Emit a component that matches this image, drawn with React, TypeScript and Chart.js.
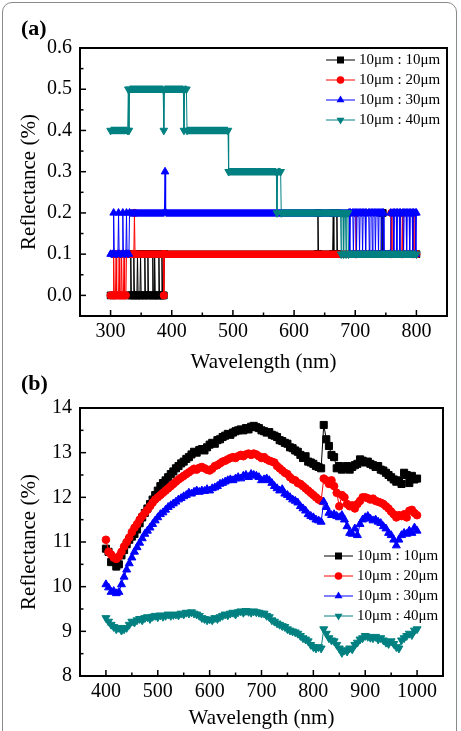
import React, { useEffect, useRef } from 'react';
import { Chart, registerables } from 'chart.js';

Chart.register(...registerables);

const FONT = '"Liberation Serif", "Times New Roman", Times, serif';
Chart.defaults.font.family = FONT;
Chart.defaults.color = '#000';

const SERIES_LABELS = ['10μm : 10μm', '10μm : 20μm', '10μm : 30μm', '10μm : 40μm'];
const COLORS = ['#000000', '#ff0000', '#0000ff', '#008080'];
const POINT_STYLES = ['rect', 'circle', 'triangle', 'triangle'];
const POINT_ROTATIONS = [0, 0, 0, 180];
const POINT_RADII = [5, 3.8, 4.6, 4.6];

// ---------- (a) step-like reflectance, [wavelength, value] run end points ----------
const aBlack: [number, number][] = [
  [300, 0], [332, 0], [333, 0.1], [334, 0], [337, 0], [338, 0.1], [339, 0], [343, 0], [344, 0.1], [345, 0],
  [348, 0], [349, 0.1], [350, 0], [355, 0], [356, 0.1], [357, 0], [360, 0], [361, 0.1], [362, 0], [368, 0],
  [369, 0.1], [370, 0], [371, 0], [372, 0.1], [373, 0], [378, 0], [379, 0.1], [380, 0], [383, 0], [384, 0.1],
  [385, 0], [387, 0], [388, 0.1], [638, 0.1], [639, 0.2], [640, 0.1], [663, 0.1], [664, 0.2], [665, 0.1],
  [669, 0.1], [670, 0.2], [671, 0.1], [742, 0.1], [743, 0.2], [744, 0.1], [745, 0.2], [746, 0.1], [800, 0.1],
];
const aRed: [number, number][] = [
  [300, 0], [304, 0], [305, 0.1], [306, 0], [308, 0], [309, 0.1], [310, 0], [313, 0], [314, 0.1], [315, 0],
  [317, 0], [318, 0.1], [319, 0], [321, 0], [322, 0.1], [323, 0], [325, 0], [326, 0.1], [338, 0.1], [339, 0.2],
  [340, 0.1], [386, 0.1], [387, 0], [388, 0.1], [700, 0.1], [701, 0.2], [702, 0.1], [758, 0.1], [759, 0.2],
  [760, 0.1], [776, 0.1], [777, 0.2], [778, 0.1], [794, 0.1], [795, 0.2], [796, 0.1], [800, 0.1],
];
const aBlue: [number, number][] = [
  [300, 0.1], [304, 0.1], [305, 0.2], [306, 0.1], [312, 0.1], [313, 0.2], [314, 0.1], [319, 0.1], [320, 0.2],
  [321, 0.1], [325, 0.1], [326, 0.2], [327, 0.1], [330, 0.1], [331, 0.2], [388, 0.2], [389, 0.3], [390, 0.2],
  [690, 0.2], [691, 0.1], [692, 0.2], [696, 0.2], [697, 0.1], [698, 0.2], [701, 0.2], [702, 0.1], [703, 0.2],
  [706, 0.2], [707, 0.1], [708, 0.2], [711, 0.2], [712, 0.1], [713, 0.2], [716, 0.2], [717, 0.1], [718, 0.2],
  [722, 0.2], [723, 0.1], [724, 0.2], [727, 0.2], [728, 0.1], [729, 0.2], [732, 0.2], [733, 0.1], [734, 0.2],
  [737, 0.2], [738, 0.1], [739, 0.2], [742, 0.2], [743, 0.1], [744, 0.2], [746, 0.2], [747, 0.1], [757, 0.1],
  [758, 0.2], [762, 0.2], [763, 0.1], [764, 0.2], [767, 0.2], [768, 0.1], [769, 0.2], [772, 0.2], [773, 0.1],
  [774, 0.2], [778, 0.2], [779, 0.1], [780, 0.2], [783, 0.2], [784, 0.1], [785, 0.2], [788, 0.2], [789, 0.1],
  [790, 0.2], [793, 0.2], [794, 0.1], [795, 0.2], [798, 0.2], [799, 0.1], [800, 0.2],
];
const aTeal: [number, number][] = [
  [300, 0.4], [328, 0.4], [329, 0.5], [330, 0.4], [331, 0.5], [386, 0.5], [387, 0.4], [388, 0.5], [419, 0.5],
  [420, 0.4], [421, 0.5], [424, 0.5], [425, 0.4], [492, 0.4], [493, 0.3], [571, 0.3], [572, 0.2], [573, 0.3],
  [578, 0.3], [579, 0.2], [676, 0.2], [677, 0.1], [678, 0.2], [680, 0.2], [681, 0.1], [682, 0.2], [684, 0.2],
  [685, 0.1], [686, 0.2], [688, 0.2], [689, 0.1], [800, 0.1],
];
const aXTicks = [300, 400, 500, 600, 700, 800];
const aXMinor = [350, 450, 550, 650, 750];
const aYTicks = [0, 0.1, 0.2, 0.3, 0.4, 0.5, 0.6];
const aYMinor = [0.05, 0.15, 0.25, 0.35, 0.45, 0.55];

// ---------- (b) reflectance spectra, 400–1000 nm every 5 nm ----------
const bWavelengths = Array.from({ length: 121 }, (_, i) => 400 + i * 5);
const bBlack = [
  10.85, 10.78, 10.55, 10.58, 10.45, 10.50, 10.70, 10.82, 10.95, 11.05,
  11.12, 11.18, 11.28, 11.42, 11.55, 11.65, 11.75, 11.85, 11.95, 12.05,
  12.15, 12.25, 12.32, 12.38, 12.45, 12.52, 12.58, 12.65, 12.70, 12.76,
  12.80, 12.86, 12.90, 12.96, 13.02, 13.00, 13.06, 13.08, 13.05, 13.12,
  13.18, 13.22, 13.20, 13.28, 13.30, 13.35, 13.38, 13.42, 13.40, 13.45,
  13.48, 13.50, 13.52, 13.50, 13.55, 13.52, 13.58, 13.60, 13.57, 13.55,
  13.50, 13.48, 13.45, 13.46, 13.40, 13.38, 13.35, 13.28, 13.26, 13.22,
  13.20, 13.12, 13.10, 13.05, 13.02, 12.95, 12.88, 12.92, 12.80, 12.78,
  12.75, 12.70, 12.68, 12.65, 13.62, 13.30, 13.15, 12.95, 12.90, 12.65,
  12.70, 12.62, 12.65, 12.70, 12.62, 12.68, 12.72, 12.75, 12.85, 12.82,
  12.78, 12.80, 12.75, 12.72, 12.68, 12.70, 12.62, 12.60, 12.55, 12.50,
  12.45, 12.40, 12.35, 12.38, 12.30, 12.55, 12.50, 12.32, 12.48, 12.40,
  12.42,
];
const bRed = [
  11.05, 10.78, 10.72, 10.65, 10.62, 10.68, 10.78, 10.90, 11.00, 11.10,
  11.22, 11.32, 11.40, 11.50, 11.58, 11.65, 11.72, 11.80, 11.88, 11.95,
  12.00, 12.05, 12.10, 12.15, 12.20, 12.25, 12.30, 12.35, 12.40, 12.44,
  12.48, 12.52, 12.56, 12.60, 12.64, 12.62, 12.66, 12.68, 12.65, 12.62,
  12.60, 12.64, 12.70, 12.72, 12.76, 12.80, 12.82, 12.85, 12.88, 12.90,
  12.88, 12.92, 12.95, 12.92, 12.96, 12.98, 12.95, 12.98, 12.96, 12.92,
  12.88, 12.90, 12.85, 12.82, 12.80, 12.78, 12.70, 12.65, 12.60, 12.55,
  12.52, 12.45, 12.40, 12.38, 12.32, 12.30, 12.25, 12.20, 12.15, 12.10,
  12.05, 12.00, 11.95, 11.92, 12.42, 12.38, 12.30, 12.38, 12.25, 12.10,
  11.80, 12.05, 12.00, 11.85, 11.80, 11.82, 11.75, 11.85, 11.92, 12.00,
  12.00, 11.98, 11.95, 11.97, 11.92, 11.90, 11.88, 11.85, 11.80, 11.75,
  11.68, 11.62, 11.55, 11.60, 11.58, 11.62, 11.55, 11.70, 11.72, 11.65,
  11.60,
];
const bBlue = [
  10.05, 9.98, 9.88, 9.90, 9.85, 9.88, 10.05, 10.22, 10.38, 10.52,
  10.65, 10.78, 10.88, 10.98, 11.08, 11.18, 11.25, 11.32, 11.40, 11.48,
  11.55, 11.62, 11.66, 11.72, 11.78, 11.82, 11.86, 11.90, 11.95, 11.98,
  12.02, 12.05, 12.10, 12.08, 12.12, 12.15, 12.12, 12.15, 12.14, 12.18,
  12.15, 12.20, 12.22, 12.25, 12.30, 12.32, 12.35, 12.38, 12.40, 12.38,
  12.42, 12.45, 12.42, 12.48, 12.50, 12.45, 12.52, 12.50, 12.48, 12.45,
  12.38, 12.40, 12.42, 12.38, 12.32, 12.25, 12.20, 12.15, 12.18, 12.08,
  12.05, 12.00, 11.95, 11.92, 11.88, 11.80, 11.75, 11.70, 11.62, 11.58,
  11.55, 11.50, 11.48, 11.45, 11.90, 11.78, 11.65, 11.60, 11.62, 11.58,
  11.55, 11.60, 11.50, 11.35, 11.20, 11.18, 11.30, 11.15, 11.40, 11.50,
  11.55, 11.58, 11.52, 11.48, 11.50, 11.45, 11.42, 11.35, 11.30, 11.20,
  11.15, 11.05, 10.92, 11.05, 11.15, 11.20, 11.18, 11.25, 11.20, 11.32,
  11.25,
];
const bTeal = [
  9.30, 9.22, 9.15, 9.10, 9.05, 9.08, 9.02, 9.05, 9.08, 9.15,
  9.22, 9.20, 9.25, 9.28, 9.25, 9.30, 9.32, 9.28, 9.33, 9.35,
  9.32, 9.36, 9.33, 9.35, 9.38, 9.35, 9.37, 9.38, 9.36, 9.40,
  9.38, 9.42, 9.40, 9.43, 9.40, 9.38, 9.35, 9.30, 9.28, 9.25,
  9.27, 9.25, 9.30, 9.28, 9.32, 9.35, 9.38, 9.36, 9.40, 9.42,
  9.38, 9.43, 9.45, 9.42, 9.46, 9.44, 9.42, 9.45, 9.43, 9.42,
  9.40, 9.40, 9.35, 9.32, 9.25, 9.22, 9.18, 9.15, 9.12, 9.10,
  9.05, 9.02, 9.00, 8.98, 8.95, 8.90, 8.85, 8.82, 8.78, 8.70,
  8.65, 8.62, 8.65, 8.62, 9.05, 8.95, 8.85, 8.80, 8.78, 8.70,
  8.62, 8.52, 8.58, 8.55, 8.62, 8.60, 8.70, 8.75, 8.82, 8.85,
  8.90, 8.88, 8.86, 8.85, 8.88, 8.82, 8.85, 8.80, 8.75, 8.72,
  8.78, 8.72, 8.65, 8.62, 8.80, 8.85, 8.90, 8.95, 8.92, 9.02,
  9.05,
];
const bXTicks = [400, 500, 600, 700, 800, 900, 1000];
const bXMinor = [450, 550, 650, 750, 850, 950];
const bYTicks = [8, 9, 10, 11, 12, 13, 14];
const bYMinor = [8.5, 9.5, 10.5, 11.5, 12.5, 13.5];

function drawMarker(ctx: CanvasRenderingContext2D, i: number, cx: number, cy: number) {
  ctx.fillStyle = COLORS[i];
  ctx.beginPath();
  if (i === 0) {
    ctx.rect(cx - 3.5, cy - 3.5, 7, 7);
  } else if (i === 1) {
    ctx.arc(cx, cy, 3.8, 0, Math.PI * 2);
  } else if (i === 2) {
    const r = 4.6;
    ctx.moveTo(cx, cy - r);
    ctx.lineTo(cx + r * 0.866, cy + r / 2);
    ctx.lineTo(cx - r * 0.866, cy + r / 2);
    ctx.closePath();
  } else {
    const r = 4.6;
    ctx.moveTo(cx, cy + r);
    ctx.lineTo(cx + r * 0.866, cy - r / 2);
    ctx.lineTo(cx - r * 0.866, cy - r / 2);
    ctx.closePath();
  }
  ctx.fill();
}

function makeDecor(cfg: {
  xMajor: number[]; xMinor: number[]; yMajor: number[]; yMinor: number[];
  legendX: number; legendY: number; legendDy: number;
}) {
  return {
    id: 'decor',
    afterDraw(chart: any) {
      const ctx: CanvasRenderingContext2D = chart.ctx;
      const { left, right, top, bottom } = chart.chartArea;
      const xs = chart.scales.x;
      const ys = chart.scales.y;
      ctx.save();
      ctx.strokeStyle = '#000';
      ctx.lineWidth = 1.5;
      const seg = (x1: number, y1: number, x2: number, y2: number) => {
        ctx.beginPath();
        ctx.moveTo(x1, y1);
        ctx.lineTo(x2, y2);
        ctx.stroke();
      };
      cfg.xMajor.forEach((v) => { const p = xs.getPixelForValue(v); seg(p, bottom, p, bottom - 6); });
      cfg.xMinor.forEach((v) => { const p = xs.getPixelForValue(v); seg(p, bottom, p, bottom - 3.5); });
      cfg.yMajor.forEach((v) => { const p = ys.getPixelForValue(v); seg(left, p, left + 6, p); });
      cfg.yMinor.forEach((v) => { const p = ys.getPixelForValue(v); seg(left, p, left + 3.5, p); });
      ctx.lineWidth = 2;
      ctx.strokeRect(left, top, right - left, bottom - top);

      // legend
      SERIES_LABELS.forEach((label, i) => {
        const yy = cfg.legendY + i * cfg.legendDy;
        ctx.strokeStyle = COLORS[i];
        ctx.lineWidth = 1;
        seg(cfg.legendX, yy, cfg.legendX + 29, yy);
        drawMarker(ctx, i, cfg.legendX + 14.5, yy);
        ctx.fillStyle = '#000';
        ctx.font = `15px ${FONT}`;
        ctx.textBaseline = 'middle';
        ctx.textAlign = 'left';
        ctx.fillText(label, cfg.legendX + 33, yy);
      });
      ctx.restore();
    },
  };
}

function baseScales(opts: {
  xMin: number; xMax: number; yMin: number; yMax: number;
  xTicks: number[]; yTicks: number[]; xHeight: number; yFmt: (v: number) => string;
  xTitlePadBottom: number;
}) {
  return {
    x: {
      type: 'linear',
      min: opts.xMin,
      max: opts.xMax,
      grid: { display: false, drawTicks: false },
      border: { display: false },
      afterBuildTicks: (s: any) => { s.ticks = opts.xTicks.map((v) => ({ value: v })); },
      afterFit: (s: any) => { s.height = opts.xHeight; },
      ticks: {
        padding: 4, color: '#000', autoSkip: false, maxRotation: 0,
        font: { family: FONT, size: 20 },
        callback: (v: any) => String(v),
      },
      title: {
        display: true, text: 'Wavelength (nm)', color: '#000',
        font: { family: FONT, size: 21 },
        padding: { top: 0, bottom: opts.xTitlePadBottom },
      },
    },
    y: {
      type: 'linear',
      min: opts.yMin,
      max: opts.yMax,
      grid: { display: false, drawTicks: false },
      border: { display: false },
      afterBuildTicks: (s: any) => { s.ticks = opts.yTicks.map((v) => ({ value: v })); },
      afterFit: (s: any) => { s.width = 80; },
      ticks: {
        padding: 8, color: '#000', autoSkip: false,
        font: { family: FONT, size: 20 },
        callback: (v: any) => opts.yFmt(Number(v)),
      },
      title: {
        display: true, text: 'Reflectance (%)', color: '#000',
        font: { family: FONT, size: 21 },
        padding: { top: 17, bottom: 0 },
      },
    },
  };
}

export default function App() {
  const refA = useRef<HTMLCanvasElement>(null);
  const refB = useRef<HTMLCanvasElement>(null);

  useEffect(() => {
    const seriesA = [aBlack, aRed, aBlue, aTeal];
    const chartA = new Chart(refA.current as HTMLCanvasElement, {
      type: 'line',
      data: {
        datasets: seriesA.map((pts, i) => ({
          label: SERIES_LABELS[i],
          data: pts.map(([x, y]) => ({ x, y })),
          borderColor: COLORS[i],
          backgroundColor: COLORS[i],
          pointBackgroundColor: COLORS[i],
          pointBorderColor: COLORS[i],
          pointStyle: POINT_STYLES[i],
          pointRotation: POINT_ROTATIONS[i],
          pointRadius: POINT_RADII[i] * 0.95,
          pointBorderWidth: 1,
          borderWidth: 1,
          tension: 0,
          order: 3 - i,
          segment: {
            borderWidth: (c: any) => (c.p0.parsed.y === c.p1.parsed.y ? 7.5 : 1),
          },
        })),
      },
      options: {
        animation: false,
        responsive: false,
        maintainAspectRatio: false,
        font: { family: FONT },
        layout: { padding: { top: 48, right: 14, left: 0, bottom: 0 } },
        plugins: { legend: { display: false }, tooltip: { enabled: false } },
        scales: baseScales({
          xMin: 250, xMax: 850, yMin: -0.05, yMax: 0.6,
          xTicks: aXTicks, yTicks: aYTicks, xHeight: 64,
          yFmt: (v) => v.toFixed(1), xTitlePadBottom: 5,
        }) as any,
      },
      plugins: [makeDecor({
        xMajor: aXTicks, xMinor: aXMinor, yMajor: aYTicks, yMinor: aYMinor,
        legendX: 326, legendY: 60, legendDy: 20,
      })],
    } as any);

    const seriesB = [bBlack, bRed, bBlue, bTeal];
    const chartB = new Chart(refB.current as HTMLCanvasElement, {
      type: 'line',
      data: {
        datasets: seriesB.map((vals, i) => ({
          label: SERIES_LABELS[i],
          data: bWavelengths.map((x, k) => ({ x, y: vals[k] })),
          borderColor: COLORS[i],
          backgroundColor: COLORS[i],
          pointBackgroundColor: COLORS[i],
          pointBorderColor: COLORS[i],
          pointStyle: POINT_STYLES[i],
          pointRotation: POINT_ROTATIONS[i],
          pointRadius: POINT_RADII[i],
          pointBorderWidth: 1,
          borderWidth: 1,
          tension: 0,
          order: 3 - i,
        })),
      },
      options: {
        animation: false,
        responsive: false,
        maintainAspectRatio: false,
        font: { family: FONT },
        layout: { padding: { top: 38, right: 18, left: 0, bottom: 0 } },
        plugins: { legend: { display: false }, tooltip: { enabled: false } },
        scales: baseScales({
          xMin: 350, xMax: 1050, yMin: 8, yMax: 14,
          xTicks: bXTicks, yTicks: bYTicks, xHeight: 55,
          yFmt: (v) => String(v), xTitlePadBottom: 0,
        }) as any,
      },
      plugins: [makeDecor({
        xMajor: bXTicks, xMinor: bXMinor, yMajor: bYTicks, yMinor: bYMinor,
        legendX: 324, legendY: 186, legendDy: 20,
      })],
    } as any);

    return () => {
      chartA.destroy();
      chartB.destroy();
    };
  }, []);

  const panelLabel: React.CSSProperties = {
    position: 'absolute',
    left: 21,
    font: `bold 22px ${FONT}`,
    lineHeight: '22px',
    color: '#000',
  };

  return (
    <div style={{ position: 'absolute', left: 0, top: 0, width: 461, height: 731, overflow: 'hidden', background: '#fff' }}>
      <div style={{ position: 'absolute', left: 2, top: 2, width: 455, height: 760, border: '1px solid #8a8a8a', borderRadius: 10, boxSizing: 'border-box' }} />
      <canvas ref={refA} width={461} height={380} style={{ position: 'absolute', left: 0, top: 0, width: 461, height: 380 }} />
      <canvas ref={refB} width={461} height={361} style={{ position: 'absolute', left: 0, top: 370, width: 461, height: 361 }} />
      <div style={{ ...panelLabel, top: 17 }}>(a)</div>
      <div style={{ ...panelLabel, top: 372 }}>(b)</div>
    </div>
  );
}
